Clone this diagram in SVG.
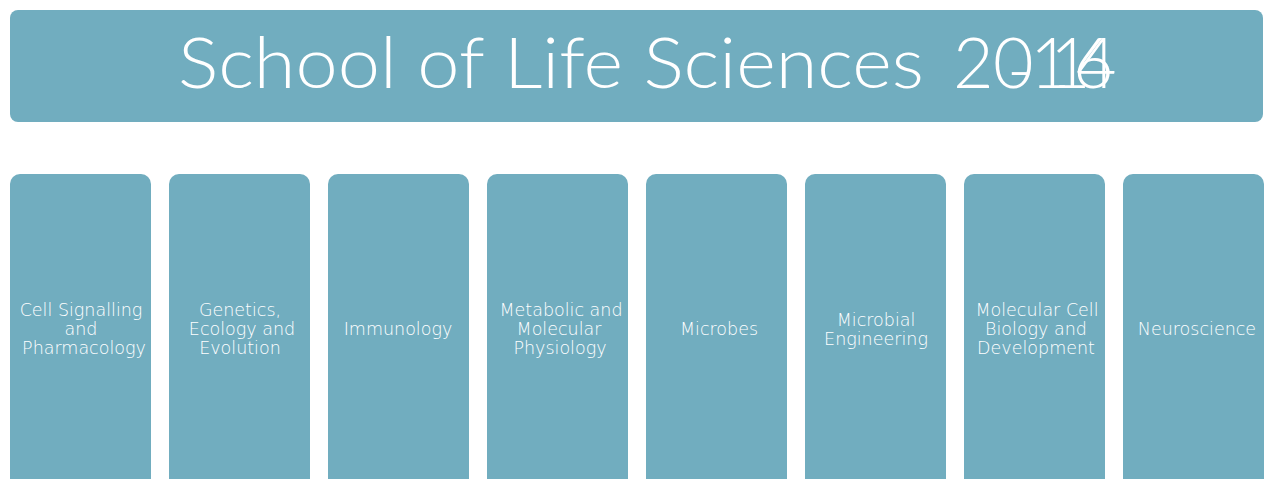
<svg xmlns="http://www.w3.org/2000/svg" width="1270" height="479" viewBox="0 0 1270 479">
<style>
.box{fill:#71adbf;}
.t{fill:#ffffff;font-family:"DejaVu Sans","Lato",sans-serif;font-weight:200;font-size:17.5px;text-anchor:middle;}
.title{fill:#ffffff;font-family:"Lato","DejaVu Sans",sans-serif;font-weight:300;font-size:70px;}
</style>
<rect width="1270" height="479" fill="#ffffff"/>
<g id="title">
<rect class="box" x="10" y="10" width="1253" height="112" rx="8"/>
<text class="title" x="178" y="88" textLength="746" lengthAdjust="spacingAndGlyphs">School of Life Sciences</text>
<text class="title" x="953 993 1030 1076" y="88">2014</text>
<text class="title" x="1007 1050 1073" y="95 88 88">-16</text>
</g>
<g id="n1"><rect class="box" x="10" y="174" width="141" height="320" rx="10"/>
<text class="t" x="81" y="316">Cell Signalling</text><text class="t" x="81" y="335">and</text><text class="t" x="84" y="354">Pharmacology</text></g>
<g id="n2"><rect class="box" x="169" y="174" width="141" height="320" rx="10"/>
<text class="t" x="240" y="316">Genetics,</text><text class="t" x="242" y="335">Ecology and</text><text class="t" x="240" y="354">Evolution</text></g>
<g id="n3"><rect class="box" x="328" y="174" width="141" height="320" rx="10"/>
<text class="t" x="398" y="335">Immunology</text></g>
<g id="n4"><rect class="box" x="487" y="174" width="141" height="320" rx="10"/>
<text class="t" x="561" y="316">Metabolic and</text><text class="t" x="559" y="335">Molecular</text><text class="t" x="560" y="354">Physiology</text></g>
<g id="n5"><rect class="box" x="646" y="174" width="141" height="320" rx="10"/>
<text class="t" x="719" y="335">Microbes</text></g>
<g id="n6"><rect class="box" x="805" y="174" width="141" height="320" rx="10"/>
<text class="t" x="876" y="326">Microbial</text><text class="t" x="876" y="345">Engineering</text></g>
<g id="n7"><rect class="box" x="964" y="174" width="141" height="320" rx="10"/>
<text class="t" x="1037" y="316">Molecular Cell</text><text class="t" x="1036" y="335">Biology and</text><text class="t" x="1036" y="354">Development</text></g>
<g id="n8"><rect class="box" x="1123" y="174" width="141" height="320" rx="10"/>
<text class="t" x="1197" y="335">Neuroscience</text></g>
<g id="connectors"/>
</svg>
